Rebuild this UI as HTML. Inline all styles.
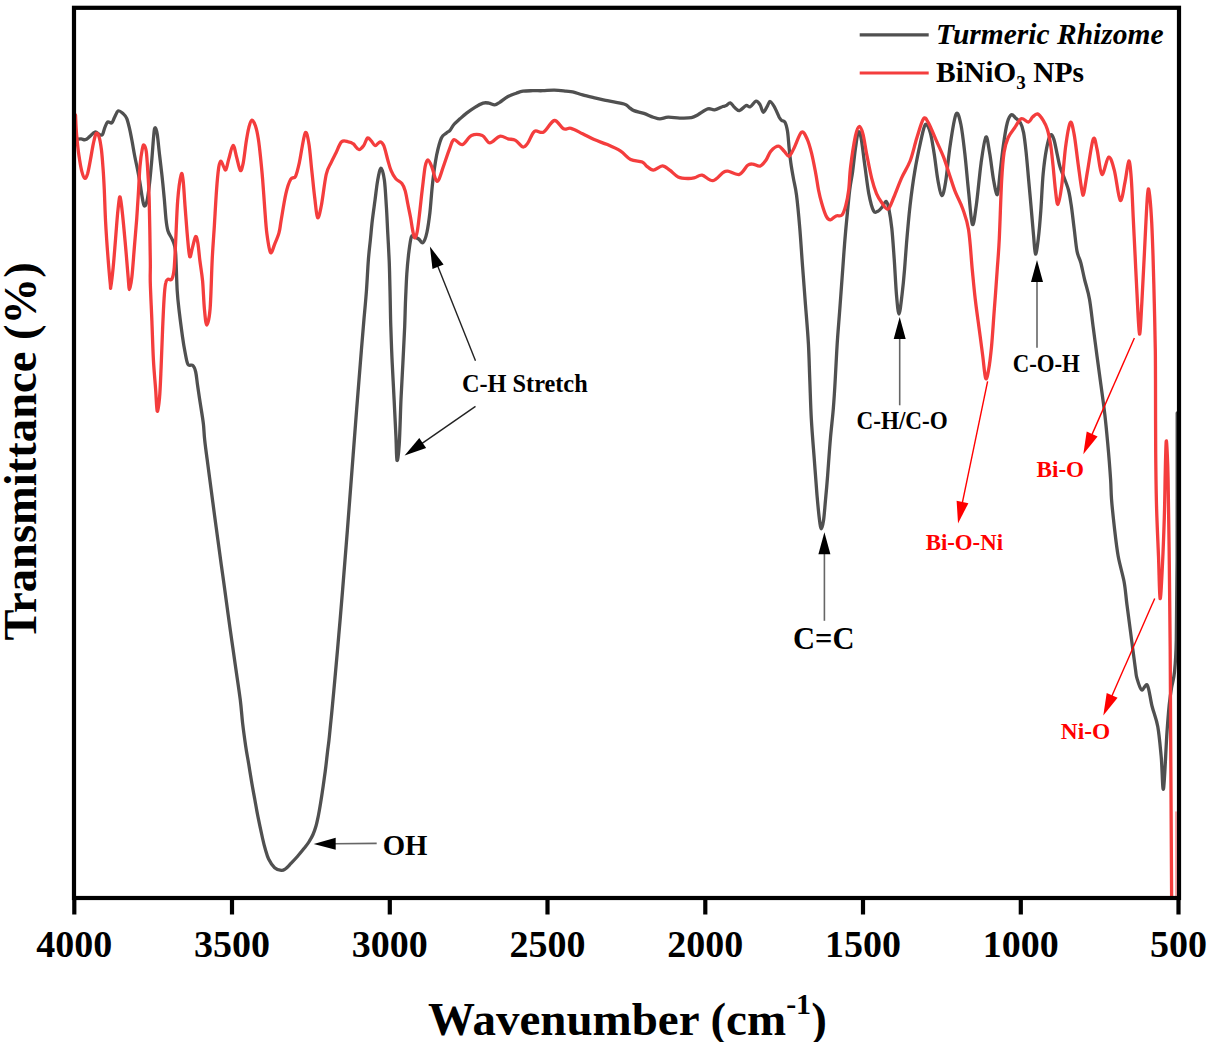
<!DOCTYPE html>
<html><head><meta charset="utf-8"><style>
html,body{margin:0;padding:0;background:#fff;}
svg{display:block;}
</style></head><body>
<svg width="1207" height="1042" viewBox="0 0 1207 1042">
<defs><clipPath id="cp"><rect x="74" y="8" width="1105" height="890"/></clipPath></defs>
<g clip-path="url(#cp)" fill="none" stroke-linejoin="round" stroke-linecap="round">
<path d="M74.5,139.3 C75.0,139.3 76.1,139.3 77.2,139.2 C78.3,139.1 79.9,138.8 81.2,138.9 C82.5,139.0 83.9,140.0 85.2,139.7 C86.5,139.4 87.7,138.2 89.3,136.9 C90.9,135.6 93.3,132.4 95.0,132.0 C96.7,131.6 98.3,134.2 99.6,134.6 C100.8,135.0 101.6,135.8 102.5,134.6 C103.4,133.4 103.9,129.7 104.8,127.6 C105.7,125.5 106.5,122.7 107.7,121.9 C108.9,121.1 110.6,123.8 111.7,123.0 C112.8,122.2 113.5,119.3 114.6,117.3 C115.7,115.3 116.8,111.6 118.1,110.9 C119.4,110.2 121.3,112.0 122.7,113.2 C124.1,114.5 125.6,115.8 126.7,118.4 C127.8,121.0 128.7,125.2 129.6,128.8 C130.5,132.5 131.0,135.7 131.9,140.3 C132.8,144.9 133.8,151.5 134.8,156.5 C135.8,161.5 136.8,165.9 137.7,170.3 C138.6,174.7 139.2,178.4 140.0,183.0 C140.8,187.6 141.6,194.1 142.3,197.9 C143.0,201.7 143.5,205.4 144.3,206.0 C145.1,206.6 146.1,204.7 146.9,201.4 C147.7,198.1 148.4,192.7 149.2,186.4 C150.0,180.1 150.7,172.0 151.5,163.4 C152.3,154.8 153.2,140.6 153.8,134.6 C154.4,128.6 154.6,127.6 155.2,127.6 C155.8,127.6 156.6,130.0 157.3,134.6 C158.0,139.2 158.8,148.6 159.6,155.3 C160.4,162.0 161.1,167.8 161.9,174.9 C162.7,182.0 163.5,190.5 164.2,197.9 C164.9,205.3 165.4,213.7 166.0,219.2 C166.6,224.7 167.0,227.5 167.9,230.7 C168.8,233.9 170.7,236.2 171.7,238.4 C172.7,240.6 173.4,241.5 174.1,244.1 C174.8,246.7 175.2,246.3 175.7,254.1 C176.2,261.9 176.6,280.8 177.2,290.7 C177.8,300.6 178.6,306.0 179.5,313.7 C180.4,321.4 181.6,330.1 182.5,336.7 C183.4,343.2 184.3,348.4 185.2,353.0 C186.1,357.6 186.7,362.4 188.0,364.5 C189.3,366.6 191.5,364.1 192.8,365.4 C194.1,366.6 194.9,368.6 195.7,372.0 C196.5,375.4 196.8,380.1 197.6,385.6 C198.4,391.1 199.5,398.4 200.5,404.8 C201.5,411.2 202.7,418.1 203.4,424.0 C204.1,429.9 203.9,433.2 204.7,440.0 C205.4,446.8 206.8,456.7 207.9,465.0 C209.0,473.3 210.1,481.7 211.2,490.0 C212.3,498.3 213.4,506.7 214.5,515.0 C215.6,523.3 216.8,531.7 217.9,540.0 C219.0,548.3 220.2,556.7 221.3,565.0 C222.5,573.3 223.7,581.7 224.8,590.0 C226.0,598.3 227.0,606.7 228.2,615.0 C229.3,623.3 230.5,631.7 231.7,640.0 C232.9,648.3 233.9,655.0 235.3,665.0 C236.7,675.0 239.1,690.3 240.3,700.0 C241.5,709.7 241.7,715.4 242.6,723.1 C243.5,730.8 244.7,739.3 245.7,746.2 C246.7,753.1 247.8,758.5 248.8,764.6 C249.8,770.8 250.8,777.2 251.8,783.1 C252.8,789.0 253.9,794.4 254.9,800.0 C255.9,805.6 256.7,810.5 258.0,816.9 C259.3,823.3 261.4,833.1 262.6,838.5 C263.8,843.9 264.4,846.1 265.4,849.5 C266.4,852.9 267.1,856.0 268.6,859.0 C270.1,862.0 272.5,865.8 274.6,867.7 C276.7,869.6 279.5,870.2 281.3,870.4 C283.1,870.6 283.7,870.1 285.3,869.0 C286.9,867.9 288.7,865.8 290.7,863.7 C292.7,861.6 295.1,859.1 297.4,856.5 C299.7,853.9 302.4,850.5 304.4,848.0 C306.4,845.5 307.8,843.8 309.2,841.5 C310.6,839.2 311.9,837.1 313.0,834.5 C314.1,831.9 315.1,829.2 316.0,826.0 C316.9,822.8 317.7,818.8 318.5,815.0 C319.3,811.2 319.9,807.2 320.6,803.0 C321.3,798.8 322.0,794.2 322.6,790.0 C323.2,785.8 323.8,782.0 324.3,778.0 C324.9,774.0 325.4,770.3 325.9,766.0 C326.4,761.7 327.0,756.3 327.5,752.0 C328.0,747.7 328.5,744.5 329.0,740.0 C329.5,735.5 330.0,730.0 330.5,725.0 C331.0,720.0 331.3,717.5 332.0,710.0 C332.7,702.5 333.9,690.0 334.8,680.0 C335.7,670.0 336.6,660.0 337.5,650.0 C338.4,640.0 339.2,630.0 340.1,620.0 C341.0,610.0 341.8,600.0 342.6,590.0 C343.4,580.0 344.2,570.0 345.0,560.0 C345.8,550.0 346.6,540.0 347.4,530.0 C348.2,520.0 348.9,510.0 349.7,500.0 C350.5,490.0 351.2,480.0 352.0,470.0 C352.8,460.0 353.5,450.0 354.3,440.0 C355.1,430.0 355.8,420.0 356.6,410.0 C357.4,400.0 358.2,390.0 359.0,380.0 C359.8,370.0 360.6,360.0 361.4,350.0 C362.2,340.0 363.0,330.0 363.9,320.0 C364.8,310.0 365.8,299.9 366.5,290.0 C367.2,280.1 367.7,269.0 368.3,260.8 C368.9,252.6 369.6,247.3 370.3,240.6 C371.0,233.9 371.5,227.2 372.3,220.5 C373.1,213.8 374.1,207.0 375.0,200.3 C375.9,193.6 376.7,185.6 377.7,180.2 C378.7,174.8 379.9,168.1 381.0,168.1 C382.1,168.1 383.5,173.7 384.4,180.2 C385.3,186.7 385.8,198.1 386.4,207.0 C387.0,215.9 387.3,224.9 387.8,233.9 C388.3,242.9 388.8,251.5 389.2,260.8 C389.6,270.2 389.7,279.1 390.0,290.0 C390.3,300.9 390.4,314.2 390.8,326.4 C391.2,338.5 391.6,350.8 392.2,362.9 C392.8,375.0 393.5,387.2 394.1,399.3 C394.7,411.4 395.4,425.5 395.9,435.7 C396.4,445.9 396.4,458.8 397.0,460.3 C397.6,461.8 398.5,455.1 399.2,444.9 C399.9,434.7 400.4,413.0 401.0,399.3 C401.6,385.6 402.3,375.0 402.9,362.9 C403.5,350.8 404.2,337.0 404.7,326.4 C405.1,315.8 405.2,307.7 405.6,299.0 C406.0,290.3 406.3,281.5 406.8,274.0 C407.3,266.5 407.9,260.2 408.6,254.0 C409.4,247.8 410.3,239.8 411.3,237.0 C412.3,234.2 413.4,236.9 414.6,237.2 C415.8,237.5 417.3,238.1 418.7,239.0 C420.1,239.9 421.7,243.8 423.1,242.6 C424.5,241.4 425.9,237.0 427.0,232.0 C428.1,227.0 428.9,221.1 429.9,212.8 C430.8,204.5 431.6,191.7 432.7,182.1 C433.8,172.5 435.2,162.7 436.6,155.3 C438.1,148.0 439.8,141.7 441.4,138.0 C443.0,134.3 444.8,134.5 446.2,133.2 C447.6,131.9 448.7,131.8 450.0,130.3 C451.3,128.9 452.2,126.4 453.9,124.5 C455.6,122.6 457.9,120.7 460.0,118.8 C462.1,116.9 464.1,115.0 466.6,113.1 C469.1,111.2 472.1,109.0 474.9,107.3 C477.6,105.6 480.8,103.8 483.1,103.1 C485.4,102.4 487.0,102.8 488.9,103.1 C490.8,103.4 492.9,104.9 494.7,104.8 C496.5,104.7 497.5,103.7 499.7,102.3 C501.9,100.9 505.2,98.0 508.0,96.5 C510.8,95.0 513.8,94.1 516.3,93.2 C518.8,92.3 520.1,91.6 522.9,91.2 C525.6,90.8 529.5,90.8 532.8,90.7 C536.1,90.6 539.2,90.8 542.8,90.7 C546.4,90.6 550.5,90.1 554.4,90.2 C558.3,90.3 563.0,90.9 566.0,91.2 C569.0,91.5 569.8,91.3 572.6,91.9 C575.4,92.5 578.7,93.9 582.6,94.9 C586.5,96.0 591.7,97.2 595.8,98.2 C599.9,99.2 602.7,99.7 607.4,100.7 C612.1,101.7 620.4,102.9 624.0,104.0 C627.6,105.1 627.4,106.2 629.0,107.3 C630.6,108.4 631.4,109.6 633.9,110.6 C636.4,111.6 640.7,112.3 643.9,113.4 C647.1,114.5 650.6,116.3 653.3,117.2 C656.0,118.1 657.4,118.9 659.9,118.9 C662.4,118.9 664.9,117.3 668.2,117.2 C671.5,117.1 675.9,118.0 679.8,118.1 C683.7,118.2 688.4,118.3 691.4,117.7 C694.4,117.1 695.2,116.2 698.0,114.7 C700.8,113.2 705.1,109.7 707.9,108.9 C710.7,108.1 712.1,110.2 714.6,109.8 C717.1,109.4 721.0,107.2 722.9,106.5 C724.8,105.8 725.0,106.2 726.2,105.6 C727.4,105.0 728.9,102.5 730.3,102.8 C731.7,103.1 732.9,106.0 734.4,107.3 C735.9,108.6 737.5,110.9 739.4,110.6 C741.3,110.3 744.2,106.2 746.0,105.6 C747.8,105.0 748.5,107.5 750.2,106.8 C751.9,106.1 754.4,101.5 756.0,101.2 C757.6,100.9 758.9,103.0 760.1,104.8 C761.3,106.6 762.1,112.2 763.4,112.3 C764.6,112.4 766.5,107.4 767.6,105.6 C768.7,103.8 769.0,101.3 770.1,101.5 C771.2,101.7 772.7,103.9 774.2,106.5 C775.7,109.1 778.0,114.9 779.2,117.2 C780.5,119.5 780.7,119.7 781.7,120.5 C782.7,121.3 784.0,120.4 785.0,122.2 C786.0,124.0 786.8,127.0 787.5,131.3 C788.2,135.6 788.6,142.7 789.1,147.9 C789.6,153.2 790.1,157.8 790.8,162.8 C791.5,167.8 792.3,172.3 793.3,177.7 C794.2,183.1 795.4,186.6 796.5,195.0 C797.6,203.4 798.8,216.4 799.8,228.4 C800.8,240.4 801.6,254.0 802.6,266.8 C803.6,279.6 804.5,292.4 805.5,305.2 C806.5,318.0 807.7,331.1 808.4,343.6 C809.1,356.1 809.3,367.5 809.8,380.0 C810.3,392.5 810.6,405.6 811.3,418.4 C812.0,431.2 813.1,444.0 814.1,456.8 C815.1,469.6 816.1,484.7 817.0,495.2 C817.9,505.7 818.8,514.4 819.5,520.0 C820.2,525.6 820.7,528.8 821.4,528.8 C822.1,528.8 822.9,524.8 823.6,520.0 C824.3,515.2 824.8,507.3 825.5,500.0 C826.2,492.7 826.8,486.4 827.6,476.0 C828.4,465.6 829.5,448.8 830.5,437.6 C831.5,426.4 832.5,418.4 833.3,408.8 C834.1,399.2 834.6,390.9 835.2,380.0 C835.9,369.1 836.4,356.1 837.2,343.6 C838.0,331.1 839.2,318.0 840.1,305.2 C841.0,292.4 842.2,276.8 842.9,266.8 C843.6,256.8 843.9,252.5 844.5,245.0 C845.1,237.5 845.6,231.2 846.5,222.0 C847.4,212.8 848.7,198.2 849.7,190.0 C850.7,181.8 851.5,179.5 852.5,172.5 C853.5,165.5 854.5,154.7 855.5,148.0 C856.5,141.3 857.3,133.9 858.2,132.2 C859.1,130.5 860.0,132.2 861.1,138.0 C862.2,143.8 863.7,157.5 865.0,166.8 C866.3,176.1 867.4,186.2 868.8,193.6 C870.2,200.9 872.0,208.0 873.6,210.9 C875.2,213.8 877.0,211.5 878.4,210.9 C879.8,210.3 880.9,208.7 882.2,207.1 C883.5,205.5 885.0,201.0 886.1,201.3 C887.2,201.6 888.0,204.5 888.9,209.0 C889.8,213.5 890.9,219.9 891.8,228.2 C892.7,236.5 893.4,247.8 894.2,258.9 C895.0,270.0 895.7,285.8 896.5,295.0 C897.3,304.2 898.1,314.1 899.0,314.1 C899.9,314.1 901.1,302.4 902.0,295.0 C902.9,287.6 903.8,278.6 904.5,270.0 C905.2,261.4 905.6,254.4 906.5,243.6 C907.4,232.8 908.7,217.4 910.1,205.2 C911.5,193.0 913.1,181.2 914.9,170.6 C916.6,160.0 918.9,149.5 920.6,141.8 C922.4,134.1 923.8,126.1 925.4,124.5 C927.0,122.9 928.8,127.4 930.2,132.2 C931.7,137.0 932.8,145.3 934.1,153.3 C935.4,161.3 936.6,173.1 937.9,180.2 C939.2,187.2 940.4,195.3 941.7,195.6 C943.0,195.9 944.2,190.8 945.6,182.1 C947.0,173.4 948.6,155.0 950.4,143.7 C952.1,132.3 954.4,117.2 956.1,114.0 C957.9,110.8 959.5,118.0 960.9,124.5 C962.3,131.1 963.5,142.1 964.8,153.3 C966.1,164.5 967.3,179.8 968.6,191.7 C969.9,203.5 971.1,222.2 972.4,224.4 C973.7,226.7 974.8,215.4 976.3,205.2 C977.8,194.9 979.5,174.3 981.1,162.9 C982.7,151.5 984.5,138.6 985.9,137.0 C987.3,135.4 988.4,146.1 989.7,153.3 C991.0,160.5 992.3,173.3 993.6,180.2 C994.9,187.1 996.3,195.7 997.4,194.6 C998.5,193.5 999.0,181.6 1000.0,173.4 C1001.0,165.2 1002.1,154.1 1003.3,145.7 C1004.5,137.3 1005.9,128.0 1007.3,122.8 C1008.6,117.6 1010.0,115.5 1011.4,114.7 C1012.8,113.9 1014.0,116.6 1015.5,117.9 C1017.0,119.2 1019.0,120.3 1020.4,122.8 C1021.8,125.2 1022.7,127.7 1023.6,132.6 C1024.5,137.5 1025.3,144.6 1026.1,152.2 C1026.9,159.8 1027.7,169.3 1028.5,178.3 C1029.3,187.3 1030.2,196.8 1031.0,206.0 C1031.8,215.2 1032.7,225.7 1033.4,233.7 C1034.2,241.7 1034.7,253.3 1035.5,254.1 C1036.3,254.9 1037.4,245.8 1038.3,238.6 C1039.2,231.4 1040.0,221.8 1040.8,210.9 C1041.6,200.0 1042.2,183.7 1043.2,173.4 C1044.2,163.1 1045.3,155.3 1046.5,148.9 C1047.7,142.5 1049.3,136.7 1050.5,135.1 C1051.7,133.5 1052.7,136.0 1053.8,139.1 C1054.9,142.2 1056.1,149.2 1057.1,153.8 C1058.1,158.4 1058.9,163.2 1060.0,166.9 C1061.1,170.7 1062.2,172.5 1063.6,176.3 C1065.0,180.1 1067.1,185.0 1068.4,189.8 C1069.7,194.6 1070.2,198.7 1071.2,205.1 C1072.2,211.5 1073.1,220.4 1074.1,228.1 C1075.1,235.8 1075.9,245.3 1077.0,251.1 C1078.1,256.9 1079.5,257.9 1080.8,262.7 C1082.1,267.5 1083.2,273.9 1084.7,280.0 C1086.2,286.1 1088.1,291.2 1089.5,299.2 C1090.9,307.2 1092.0,318.4 1093.3,328.0 C1094.6,337.6 1095.8,347.1 1097.1,356.7 C1098.4,366.3 1099.7,375.9 1101.0,385.5 C1102.3,395.1 1103.7,404.7 1104.8,414.3 C1105.9,423.9 1106.7,432.2 1107.7,443.1 C1108.7,454.0 1110.0,470.2 1110.6,479.5 C1111.2,488.8 1110.9,490.8 1111.5,498.8 C1112.1,506.8 1113.3,518.0 1114.4,527.6 C1115.5,537.2 1116.6,547.3 1118.2,556.3 C1119.8,565.2 1122.5,573.3 1124.0,581.3 C1125.5,589.3 1125.8,595.7 1126.9,604.3 C1128.0,612.9 1129.3,622.2 1130.7,633.1 C1132.1,644.0 1134.5,662.0 1135.5,669.5 C1136.5,677.0 1136.0,675.0 1137.0,678.4 C1138.0,681.8 1139.9,688.8 1141.6,689.9 C1143.3,691.0 1145.7,682.6 1147.4,685.3 C1149.1,688.0 1150.3,699.1 1152.0,706.0 C1153.7,712.9 1156.3,718.3 1157.8,726.8 C1159.3,735.2 1160.2,746.4 1161.2,756.7 C1162.2,767.1 1162.5,793.0 1163.5,788.9 C1164.5,784.8 1166.0,746.0 1167.0,732.0 C1168.0,718.0 1168.5,712.3 1169.2,705.0 C1170.0,697.7 1170.6,693.5 1171.5,688.0 C1172.4,682.5 1173.7,680.0 1174.5,672.0 C1175.3,664.0 1175.9,658.7 1176.3,640.0 C1176.7,621.3 1176.9,597.8 1177.1,560.0 C1177.2,522.2 1177.2,437.5 1177.2,413.0" stroke="#505050" stroke-width="3.3"/>
<path d="M75.5,115.0 C75.7,118.3 76.0,127.9 76.6,134.6 C77.2,141.3 78.0,149.2 78.9,155.3 C79.8,161.4 80.8,167.6 81.8,171.4 C82.8,175.2 83.7,177.9 84.7,178.3 C85.7,178.7 86.6,176.8 87.6,173.7 C88.5,170.6 89.5,164.9 90.4,159.9 C91.4,154.9 92.3,148.2 93.3,143.8 C94.3,139.4 95.2,134.6 96.2,133.4 C97.2,132.2 98.2,134.2 99.1,136.9 C100.0,139.6 100.7,144.1 101.4,149.5 C102.1,154.9 102.6,162.3 103.1,169.1 C103.6,175.8 103.9,181.2 104.3,190.0 C104.7,198.8 105.0,210.7 105.6,222.0 C106.2,233.3 107.2,247.3 108.0,257.6 C108.8,267.9 109.8,279.1 110.3,284.0 C110.8,288.9 110.3,289.6 110.8,286.8 C111.3,284.0 112.4,275.2 113.2,267.1 C114.0,259.0 114.8,248.0 115.6,238.4 C116.4,228.8 117.2,216.5 118.0,209.6 C118.8,202.7 119.3,195.8 120.1,197.0 C120.9,198.2 121.9,208.5 122.8,217.0 C123.7,225.5 124.8,238.1 125.7,248.0 C126.6,257.9 127.5,269.8 128.1,276.7 C128.7,283.6 128.9,289.5 129.5,289.5 C130.1,289.5 131.1,283.6 131.9,276.7 C132.7,269.8 133.5,257.6 134.3,248.0 C135.1,238.4 136.0,227.9 136.7,219.2 C137.3,210.5 137.6,204.9 138.2,196.0 C138.8,187.1 139.3,173.8 140.0,166.0 C140.7,158.2 141.6,152.5 142.3,149.0 C143.0,145.5 143.3,144.5 144.0,145.0 C144.7,145.5 145.6,146.8 146.3,151.8 C147.0,156.8 147.5,166.9 148.0,174.9 C148.5,182.9 148.8,185.8 149.2,200.0 C149.6,214.2 150.1,246.2 150.3,260.0 C150.5,273.8 150.0,272.8 150.3,283.0 C150.6,293.2 151.4,308.5 151.9,321.3 C152.4,334.1 152.8,348.2 153.4,359.7 C154.0,371.2 155.1,381.8 155.7,390.4 C156.3,399.0 156.6,409.8 157.2,411.1 C157.8,412.4 158.8,405.3 159.5,398.0 C160.2,390.7 160.6,378.9 161.1,367.4 C161.6,355.9 162.1,340.5 162.6,329.0 C163.1,317.5 163.6,306.0 164.1,298.3 C164.6,290.6 165.0,286.2 165.7,283.0 C166.3,279.8 167.0,279.8 168.0,279.2 C169.0,278.6 170.8,280.9 171.8,279.2 C172.8,277.5 173.5,275.2 174.1,269.2 C174.7,263.2 175.0,254.5 175.6,243.0 C176.2,231.5 176.8,211.7 177.7,200.3 C178.6,188.9 180.2,178.2 181.1,174.8 C182.0,171.5 182.4,174.8 183.1,180.2 C183.8,185.6 184.3,196.9 185.1,207.0 C185.9,217.1 187.0,232.3 187.8,240.6 C188.6,248.9 189.0,255.7 189.8,256.8 C190.6,257.9 191.5,250.8 192.5,247.4 C193.5,244.0 194.7,237.3 195.6,236.6 C196.5,235.9 197.2,239.3 197.9,243.3 C198.6,247.3 199.1,254.5 199.9,260.8 C200.7,267.1 201.8,273.0 202.6,281.0 C203.3,289.0 203.7,301.5 204.4,308.8 C205.1,316.1 205.8,325.0 206.7,325.0 C207.6,325.0 209.2,319.7 210.1,308.8 C211.0,297.9 211.5,273.6 212.2,259.6 C212.9,245.7 213.7,236.6 214.4,225.1 C215.1,213.6 215.8,200.2 216.5,190.6 C217.2,181.0 218.0,172.5 218.7,167.6 C219.4,162.7 220.1,161.2 220.9,161.1 C221.7,161.0 222.9,165.4 223.7,166.8 C224.5,168.2 225.1,171.0 225.9,169.7 C226.8,168.4 227.6,163.0 228.8,158.9 C230.0,154.8 231.8,145.5 233.1,145.3 C234.4,145.1 235.5,153.3 236.7,157.5 C237.9,161.7 239.2,169.5 240.3,170.4 C241.4,171.3 242.2,167.8 243.2,163.2 C244.1,158.6 245.1,149.1 246.0,143.1 C246.9,137.1 247.9,131.1 248.9,127.3 C249.9,123.5 250.7,120.3 251.8,120.1 C252.9,119.8 254.3,122.7 255.4,125.8 C256.5,128.9 257.5,133.8 258.3,138.8 C259.1,143.8 259.7,149.3 260.4,156.0 C261.1,162.7 261.9,170.5 262.6,179.1 C263.3,187.7 264.0,198.7 264.7,207.8 C265.4,216.9 265.9,226.3 266.9,233.7 C267.9,241.1 269.2,250.7 270.5,252.4 C271.8,254.1 273.4,247.2 274.8,243.8 C276.2,240.5 278.1,236.2 279.1,232.3 C280.2,228.4 280.0,226.9 281.1,220.5 C282.2,214.1 284.3,200.5 285.9,193.6 C287.5,186.7 289.1,182.2 290.7,179.3 C292.3,176.4 294.1,179.1 295.5,176.4 C296.9,173.7 297.7,170.1 299.3,162.9 C300.9,155.7 303.5,136.4 305.1,133.2 C306.7,130.0 307.8,137.5 308.9,143.7 C310.0,149.9 310.8,161.6 311.8,170.6 C312.8,179.6 313.7,189.7 314.7,197.5 C315.7,205.3 316.5,216.3 317.6,217.6 C318.7,218.9 320.0,212.4 321.4,205.2 C322.8,198.0 324.6,181.6 326.2,174.5 C327.8,167.4 329.4,166.4 331.0,162.9 C332.6,159.4 334.0,156.8 335.8,153.3 C337.6,149.8 339.5,143.7 341.6,141.8 C343.7,139.9 346.4,141.5 348.3,141.8 C350.2,142.1 351.4,142.4 353.1,143.7 C354.9,145.0 357.1,149.2 358.8,149.5 C360.6,149.8 362.2,147.6 363.6,145.7 C365.1,143.8 366.2,138.8 367.5,138.0 C368.8,137.2 370.0,139.6 371.3,140.9 C372.6,142.2 373.8,145.5 375.2,145.7 C376.6,145.8 378.6,141.8 380.0,141.8 C381.4,141.8 382.5,142.7 383.8,145.7 C385.1,148.7 386.6,155.8 387.8,160.0 C389.0,164.2 389.8,167.6 391.1,170.7 C392.4,173.8 394.0,176.7 395.8,178.8 C397.6,180.9 400.3,181.5 401.9,183.5 C403.5,185.5 404.2,187.4 405.2,190.9 C406.2,194.4 407.0,199.8 407.9,204.3 C408.8,208.8 409.8,213.5 410.6,217.8 C411.4,222.1 411.9,226.6 412.6,229.9 C413.3,233.2 413.8,237.7 414.6,237.9 C415.4,238.1 416.4,235.9 417.3,231.2 C418.2,226.5 419.2,216.6 420.0,209.7 C420.8,202.8 421.3,197.2 422.2,190.0 C423.1,182.8 424.2,171.8 425.1,166.8 C426.1,161.8 426.8,160.0 427.9,160.0 C429.0,160.0 430.5,163.6 431.8,166.8 C433.1,170.0 434.5,177.1 435.6,179.3 C436.7,181.5 437.2,182.3 438.5,180.2 C439.8,178.1 441.4,172.2 443.3,166.8 C445.2,161.4 448.2,152.1 450.0,147.6 C451.8,143.1 452.0,140.1 454.1,139.6 C456.2,139.1 459.5,145.3 462.4,144.6 C465.3,143.9 468.2,137.0 471.5,135.5 C474.8,134.0 479.2,134.3 482.3,135.5 C485.4,136.7 486.9,142.8 489.8,142.9 C492.7,143.0 496.7,137.0 499.7,136.3 C502.7,135.6 505.4,138.1 508.0,138.8 C510.6,139.5 513.0,139.0 515.5,140.4 C518.0,141.8 520.8,146.6 522.9,147.0 C525.0,147.4 526.0,145.5 527.9,142.9 C529.8,140.3 531.9,133.1 534.5,131.3 C537.1,129.5 540.3,133.9 543.6,132.1 C546.9,130.3 551.1,121.0 554.4,120.5 C557.7,120.0 560.7,127.5 563.5,128.8 C566.3,130.1 567.8,127.5 571.0,128.3 C574.2,129.1 578.7,131.9 582.6,133.8 C586.5,135.7 590.1,137.8 594.2,139.6 C598.3,141.4 603.0,142.7 607.4,144.6 C611.8,146.5 616.8,148.7 620.7,151.2 C624.6,153.7 627.0,157.7 630.6,159.5 C634.2,161.3 639.5,160.9 642.2,162.0 C644.9,163.1 644.8,164.7 646.6,166.1 C648.5,167.5 650.7,170.2 653.3,170.2 C655.9,170.1 659.6,165.8 662.4,165.8 C665.1,165.8 667.2,168.3 669.8,170.2 C672.4,172.0 675.0,175.5 678.1,176.9 C681.2,178.3 685.3,178.4 688.1,178.5 C690.9,178.6 692.4,178.2 694.7,177.7 C697.0,177.1 699.1,174.7 702.1,175.2 C705.1,175.7 709.4,181.1 712.9,180.7 C716.4,180.3 720.4,174.3 722.9,172.7 C725.4,171.1 725.0,170.8 727.8,171.1 C730.5,171.4 736.1,175.4 739.4,174.4 C742.7,173.4 745.5,167.0 747.7,165.3 C749.9,163.6 750.6,164.0 752.7,164.1 C754.8,164.2 757.9,166.7 760.1,166.1 C762.3,165.5 764.1,162.8 765.9,160.3 C767.7,157.8 768.8,153.5 770.9,151.2 C773.0,148.8 776.2,146.2 778.4,146.2 C780.6,146.2 782.4,149.5 784.2,151.2 C786.0,152.9 787.5,156.8 789.1,156.2 C790.8,155.6 792.0,151.9 794.1,147.9 C796.2,143.9 799.4,133.5 801.6,132.1 C803.8,130.7 805.8,136.1 807.4,139.6 C809.0,143.1 810.1,147.4 811.5,152.9 C812.9,158.4 814.4,166.5 815.6,172.7 C816.8,178.9 817.5,184.9 818.5,190.0 C819.5,195.1 820.4,198.9 821.8,203.4 C823.1,207.9 825.1,214.2 826.6,216.9 C828.1,219.6 828.9,220.0 830.5,219.8 C832.1,219.6 834.3,216.7 836.2,215.9 C838.1,215.1 840.4,216.8 842.0,215.0 C843.6,213.2 844.7,209.6 845.8,205.4 C846.9,201.2 847.9,196.4 848.7,190.0 C849.5,183.6 849.5,175.8 850.6,166.8 C851.7,157.8 854.0,142.8 855.4,136.1 C856.8,129.4 857.9,126.8 859.2,126.5 C860.5,126.2 861.7,129.3 863.0,134.1 C864.3,138.9 865.4,147.9 866.9,155.3 C868.4,162.7 870.1,171.9 871.7,178.3 C873.3,184.7 874.8,189.4 876.5,193.6 C878.2,197.8 880.3,200.6 882.2,203.2 C884.1,205.8 886.1,209.9 888.0,209.0 C889.9,208.1 891.5,202.6 893.7,197.5 C895.9,192.4 898.7,184.4 901.4,178.3 C904.1,172.2 907.5,167.7 910.1,161.0 C912.7,154.3 914.6,145.0 916.8,138.0 C919.0,131.0 921.6,121.4 923.5,118.8 C925.4,116.2 926.2,119.1 928.3,122.6 C930.4,126.1 933.5,134.1 936.0,139.9 C938.5,145.7 941.4,151.4 943.6,157.2 C945.8,163.0 947.5,168.8 949.4,174.5 C951.3,180.2 953.0,185.9 955.2,191.7 C957.4,197.4 960.6,202.6 962.8,209.0 C965.0,215.4 967.0,219.9 968.6,230.1 C970.2,240.3 971.2,258.6 972.3,270.0 C973.4,281.4 974.1,289.2 975.2,298.8 C976.3,308.4 977.7,318.0 979.0,327.6 C980.3,337.2 981.7,347.9 982.8,356.4 C983.9,364.9 984.7,376.2 985.7,378.4 C986.7,380.6 987.6,375.1 988.6,369.8 C989.6,364.5 990.5,357.0 991.5,346.8 C992.5,336.6 993.4,321.2 994.4,308.4 C995.4,295.6 996.4,281.6 997.2,270.0 C998.0,258.4 998.6,253.3 999.3,238.6 C1000.0,223.8 1000.8,195.9 1001.6,181.5 C1002.4,167.1 1003.0,159.5 1004.1,152.2 C1005.2,144.9 1006.4,141.6 1008.2,137.5 C1010.0,133.4 1012.5,130.8 1014.7,127.7 C1016.9,124.6 1018.9,119.8 1021.2,118.8 C1023.5,117.8 1026.6,122.3 1028.5,122.0 C1030.4,121.7 1031.1,118.4 1032.6,117.1 C1034.1,115.8 1035.7,113.4 1037.5,113.9 C1039.3,114.5 1041.6,117.8 1043.2,120.4 C1044.8,123.0 1046.1,125.4 1047.3,129.3 C1048.5,133.2 1049.5,138.0 1050.5,144.0 C1051.5,150.0 1052.2,157.6 1053.0,165.2 C1053.8,172.8 1054.6,183.2 1055.4,189.7 C1056.2,196.2 1056.9,205.0 1057.9,204.4 C1059.0,203.8 1060.4,195.4 1061.7,185.9 C1063.0,176.4 1064.1,158.2 1065.5,147.6 C1066.9,137.0 1068.9,124.8 1070.3,122.6 C1071.7,120.3 1072.8,127.4 1074.1,134.1 C1075.4,140.8 1076.7,153.6 1078.0,162.9 C1079.3,172.2 1080.8,184.7 1081.8,189.8 C1082.8,194.9 1082.7,196.8 1083.7,193.6 C1084.7,190.4 1086.0,179.7 1087.6,170.6 C1089.2,161.5 1091.7,142.4 1093.3,138.9 C1094.9,135.4 1095.7,143.6 1097.1,149.5 C1098.5,155.4 1100.0,173.1 1101.9,174.4 C1103.8,175.7 1106.6,157.7 1108.7,157.1 C1110.8,156.5 1112.5,163.4 1114.4,170.6 C1116.3,177.8 1118.4,198.4 1120.2,200.3 C1122.0,202.2 1123.6,188.7 1125.0,182.1 C1126.4,175.5 1127.8,161.6 1128.8,161.0 C1129.8,160.4 1130.6,169.5 1131.3,178.8 C1132.0,188.2 1132.6,204.3 1133.2,217.1 C1133.8,229.9 1134.5,242.6 1135.1,255.4 C1135.7,268.2 1136.3,280.7 1137.0,293.8 C1137.7,306.9 1138.7,332.4 1139.5,334.0 C1140.3,335.6 1141.1,314.8 1141.8,303.3 C1142.5,291.8 1143.1,277.8 1143.8,265.0 C1144.5,252.2 1145.1,238.5 1145.7,226.7 C1146.3,214.9 1147.0,200.0 1147.6,194.1 C1148.2,188.2 1148.5,187.4 1149.1,191.2 C1149.7,195.0 1150.8,206.4 1151.4,217.1 C1152.1,227.8 1152.5,241.0 1153.0,255.4 C1153.5,269.8 1153.9,287.7 1154.3,303.3 C1154.7,318.9 1155.1,336.5 1155.3,349.3 C1155.5,362.1 1155.4,362.8 1155.5,380.0 C1155.6,397.2 1155.5,431.3 1155.7,452.7 C1155.9,474.1 1156.1,491.1 1156.6,508.4 C1157.1,525.7 1157.9,541.3 1158.5,556.3 C1159.1,571.3 1159.4,596.9 1160.1,598.5 C1160.8,600.1 1161.7,579.3 1162.4,565.9 C1163.1,552.5 1163.8,533.9 1164.3,517.9 C1164.8,501.9 1165.0,482.7 1165.3,470.0 C1165.6,457.3 1165.9,444.4 1166.2,441.5 C1166.5,438.6 1166.9,446.4 1167.2,452.7 C1167.5,459.0 1167.8,463.8 1168.1,479.5 C1168.4,495.2 1168.8,518.3 1169.1,546.7 C1169.4,575.1 1169.8,592.1 1170.2,650.0 C1170.6,707.9 1171.2,849.0 1171.6,894.0 C1172.0,939.0 1172.3,915.7 1172.5,920.0" stroke="#f43d3d" stroke-width="3.3"/>
<line x1="1176" y1="898" x2="1176" y2="812" stroke="#f43d3d" stroke-width="1.5" opacity="0.6"/>
</g>
<line x1="376.7" y1="843.4" x2="333.7" y2="843.7" stroke="#666" stroke-width="1.6"/><polygon points="313.7,843.9 335.7,837.7 335.7,849.7" fill="#000"/><line x1="475.5" y1="406.3" x2="421.0" y2="444.1" stroke="#222" stroke-width="1.4"/><polygon points="404.6,455.5 419.3,438.0 426.1,447.9" fill="#000"/><line x1="475.5" y1="360.8" x2="437.3" y2="265.0" stroke="#222" stroke-width="1.4"/><polygon points="429.9,246.4 443.6,264.6 432.5,269.1" fill="#000"/><line x1="824.4" y1="620.8" x2="824.4" y2="552.2" stroke="#666" stroke-width="1.6"/><polygon points="824.4,532.2 830.4,554.2 818.4,554.2" fill="#000"/><line x1="899.7" y1="405.3" x2="899.7" y2="337.0" stroke="#666" stroke-width="1.6"/><polygon points="899.7,317.0 905.7,339.0 893.7,339.0" fill="#000"/><line x1="1037.0" y1="347.7" x2="1037.0" y2="280.0" stroke="#666" stroke-width="1.6"/><polygon points="1037.0,260.0 1043.0,282.0 1031.0,282.0" fill="#000"/><line x1="987.6" y1="381.3" x2="962.1" y2="503.9" stroke="#f00" stroke-width="1.4"/><polygon points="958.0,523.5 956.6,500.7 968.4,503.2" fill="#f00"/><line x1="1134.4" y1="338.0" x2="1091.4" y2="435.9" stroke="#f00" stroke-width="1.4"/><polygon points="1083.3,454.2 1086.7,431.6 1097.6,436.5" fill="#f00"/><line x1="1154.7" y1="598.5" x2="1111.3" y2="697.2" stroke="#f00" stroke-width="1.4"/><polygon points="1103.3,715.5 1106.7,692.9 1117.6,697.8" fill="#f00"/>
<g fill="none" stroke="#000" stroke-width="4.2">
<rect x="74" y="7.8" width="1105" height="890.2"/>
<line x1="74.3" y1="898" x2="74.3" y2="914.5"/><line x1="232.0" y1="898" x2="232.0" y2="914.5"/><line x1="389.8" y1="898" x2="389.8" y2="914.5"/><line x1="547.5" y1="898" x2="547.5" y2="914.5"/><line x1="705.3" y1="898" x2="705.3" y2="914.5"/><line x1="863.0" y1="898" x2="863.0" y2="914.5"/><line x1="1020.8" y1="898" x2="1020.8" y2="914.5"/><line x1="1178.5" y1="898" x2="1178.5" y2="914.5"/>
</g>
<g style="font-family:&quot;Liberation Serif&quot;,serif;font-weight:bold;" font-size="38"><text x="74.3" y="957" text-anchor="middle">4000</text><text x="232.0" y="957" text-anchor="middle">3500</text><text x="389.8" y="957" text-anchor="middle">3000</text><text x="547.5" y="957" text-anchor="middle">2500</text><text x="705.3" y="957" text-anchor="middle">2000</text><text x="863.0" y="957" text-anchor="middle">1500</text><text x="1020.8" y="957" text-anchor="middle">1000</text><text x="1178.5" y="957" text-anchor="middle">500</text></g>
<text style="font-family:&quot;Liberation Serif&quot;,serif;font-weight:bold;" font-size="46.6" transform="translate(35.5,640.6) rotate(-90)">Transmittance (%)</text>
<text style="font-family:&quot;Liberation Serif&quot;,serif;font-weight:bold;" font-size="47" x="428" y="1035">Wavenumber (cm<tspan font-size="30" dy="-21">-1</tspan><tspan dy="21">)</tspan></text>
<g style="font-family:&quot;Liberation Serif&quot;,serif;font-weight:bold;"><text transform="translate(382.66,855.09) scale(0.950,1)" font-size="30.30" fill="#000">OH</text><text transform="translate(793.07,648.88) scale(0.950,1)" font-size="32.12" fill="#000">C=C</text><text transform="translate(461.88,391.81) scale(0.992,1)" font-size="24.51" fill="#000">C-H Stretch</text><text transform="translate(856.54,429.10) scale(0.918,1)" font-size="25.22" fill="#000">C-H/C-O</text><text transform="translate(1012.66,372.00) scale(0.906,1)" font-size="25.22" fill="#000">C-O-H</text><text transform="translate(925.64,549.55) scale(1.008,1)" font-size="22.68" fill="#f00">Bi-O-Ni</text><text transform="translate(1036.54,477.45) scale(1.026,1)" font-size="22.54" fill="#f00">Bi-O</text><text transform="translate(1060.83,739.35) scale(1.038,1)" font-size="22.54" fill="#f00">Ni-O</text></g>
<line x1="859.7" y1="34.8" x2="928.7" y2="34.8" stroke="#505050" stroke-width="3.2"/>
<line x1="859.7" y1="73" x2="928.7" y2="73" stroke="#f43d3d" stroke-width="3.2"/>
<text style="font-family:&quot;Liberation Serif&quot;,serif;font-weight:bold;font-style:italic;" font-size="29.5" x="936" y="44">Turmeric Rhizome</text>
<text style="font-family:&quot;Liberation Serif&quot;,serif;font-weight:bold;" font-size="29.5" x="936" y="81.8">BiNiO<tspan font-size="19" dy="7">3</tspan><tspan dy="-7"> NPs</tspan></text>
</svg>
</body></html>
